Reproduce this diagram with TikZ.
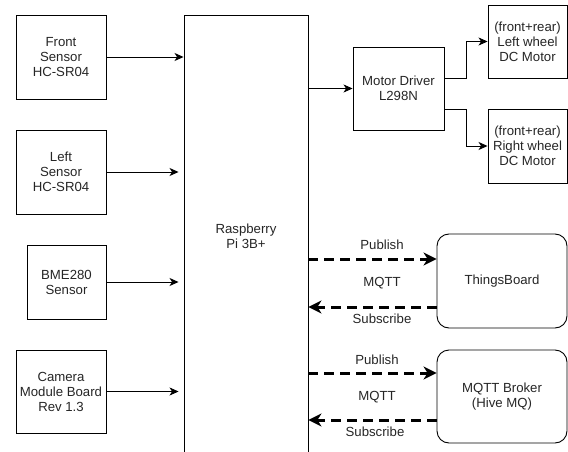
\documentclass[tikz,border=0pt]{standalone}
\usepackage{fontspec}
\setmainfont{Liberation Sans}
\usetikzlibrary{arrows.meta,calc}
\begin{document}
\begin{tikzpicture}[x=1pt,y=-1pt,
  box/.style={draw=black,line width=0.9pt,fill=white,align=center,inner sep=0pt,
    font=\fontsize{13.2}{15}\selectfont,text=black!85},
  rbox/.style={box,rounded corners=12pt},
  lbl/.style={font=\fontsize{13.2}{15}\selectfont,text=black!85,inner sep=0pt},
  arr/.style={line width=0.9pt,-{Stealth[length=9pt,width=8pt,inset=2.5pt]}},
  darr/.style={line width=3pt,dash pattern=on 10pt off 6pt,-{Stealth[length=13pt,width=13pt,inset=4pt]}}]
\useasboundingbox (0,0) rectangle (568,452);
\clip (0,0) rectangle (568,452);
% nodes
\node[box,minimum width=90pt,minimum height=84pt] (front) at (61,57) {Front\\Sensor\\HC-SR04};
\node[box,minimum width=90pt,minimum height=84pt] (left) at (61,172) {Left\\Sensor\\HC-SR04};
\node[box,minimum width=79pt,minimum height=74pt] (bme) at (66.5,282) {BME280\\Sensor};
\node[box,minimum width=90pt,minimum height=83pt] (cam) at (61,391.5) {Camera\\Module Board\\Rev 1.3};
\node[box,minimum width=124pt,minimum height=442pt] (rpi) at (246,236) {Raspberry\\Pi 3B+};
\node[box,minimum width=91pt,minimum height=83pt] (md) at (398.5,88.5) {Motor Driver\\L298N};
\node[box,minimum width=79pt,minimum height=73pt] (lw) at (527.5,41.5) {(front+rear)\\Left wheel\\DC Motor};
\node[box,minimum width=79pt,minimum height=74pt] (rw) at (527.5,146) {(front+rear)\\Right wheel\\DC Motor};
\node[rbox,minimum width=130pt,minimum height=94pt] (tb) at (502,281) {ThingsBoard};
\node[rbox,minimum width=130pt,minimum height=93pt] (mb) at (502,396.5) {MQTT Broker\\(Hive MQ)};
% inputs
\draw[arr] (front.east) -- (front.east -| rpi.west);
\draw[arr,shorten >=5pt] (left.east) -- (left.east -| rpi.west);
\draw[arr,shorten >=5pt] (bme.east) -- (bme.east -| rpi.west);
\draw[arr,shorten >=5pt] (cam.east) -- (cam.east -| rpi.west);
% motor driver
\draw[arr] (md.west -| rpi.east) -- (md.west);
\draw[arr] ([yshift=10.5pt]md.east) -- ++(22,0) |- (lw.west);
\draw[arr] ([yshift=-20.5pt]md.east) -- ++(22,0) |- (rw.west);
% MQTT links
\coordinate (tbp) at ([yshift=22pt]tb.west);
\coordinate (tbs) at ([yshift=-26pt]tb.west);
\coordinate (mbp) at ([yshift=23.5pt]mb.west);
\coordinate (mbs) at ([yshift=-23.5pt]mb.west);
\draw[darr] (tbp -| rpi.east) -- (tbp);
\draw[darr] (tbs) -- (tbs -| rpi.east);
\draw[darr] (mbp -| rpi.east) -- (mbp);
\draw[darr] (mbs) -- (mbs -| rpi.east);
\node[lbl] (p1) at (382,245) {Publish};
\node[lbl] (q1) at (382,283) {MQTT};
\node[lbl] (s1) at (382,319) {Subscribe};
\node[lbl] (p2) at (377,360) {Publish};
\node[lbl] (q2) at (377,397) {MQTT};
\node[lbl] (s2) at (375,432) {Subscribe};
\end{tikzpicture}
\end{document}
